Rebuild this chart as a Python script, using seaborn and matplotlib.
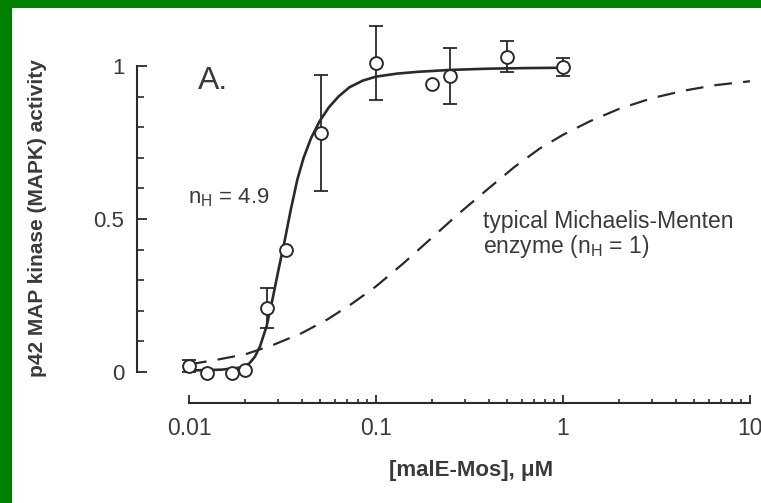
import numpy as np
import pandas as pd
import seaborn as sns
import matplotlib.pyplot as plt
from matplotlib.patches import Rectangle
from matplotlib.ticker import FixedLocator, NullFormatter

# measured points (open circles) with error bars
conc = [0.010, 0.0125, 0.017, 0.020, 0.026, 0.033, 0.051, 0.10, 0.20, 0.25, 0.50, 1.0]
activity = [0.02, -0.003, -0.003, 0.006, 0.21, 0.40, 0.78, 1.01, 0.94, 0.967, 1.03, 0.997]
err = [0.02, 0, 0, 0, 0.065, 0, 0.19, 0.12, 0.0, 0.09, 0.05, 0.03]

# fitted Hill curve (n_H = 4.9)
hill_x = [0.010, 0.015, 0.019, 0.021, 0.0225, 0.024, 0.026, 0.028, 0.030, 0.0325,
          0.035, 0.038, 0.041, 0.045, 0.050, 0.056, 0.063, 0.072, 0.085, 0.10,
          0.13, 0.17, 0.25, 0.40, 0.65, 1.0]
hill_y = [0.005, 0.008, 0.015, 0.028, 0.05, 0.085, 0.15, 0.24, 0.33, 0.43,
          0.53, 0.63, 0.70, 0.765, 0.82, 0.865, 0.90, 0.93, 0.952, 0.965,
          0.975, 0.981, 0.987, 0.991, 0.993, 0.994]

# typical Michaelis-Menten curve (n_H = 1)
mm_x = [0.010, 0.014, 0.020, 0.028, 0.040, 0.055, 0.075, 0.10, 0.14, 0.20, 0.28,
        0.40, 0.55, 0.75, 1.0, 1.4, 2.0, 3.0, 4.5, 6.5, 10.0]
mm_y = [0.025, 0.04, 0.058, 0.088, 0.127, 0.172, 0.225, 0.28, 0.355, 0.44, 0.52,
        0.60, 0.67, 0.73, 0.775, 0.82, 0.86, 0.895, 0.92, 0.937, 0.95]

y_ticks = [0, 0.5, 1]
y_minor = [0.1, 0.2, 0.3, 0.4, 0.6, 0.7, 0.8, 0.9]
x_ticks = [0.01, 0.1, 1, 10]
x_labels = ['0.01', '0.1', '1', '10']

sns.set_theme(style="white")
plt.rcParams['font.family'] = ['Liberation Sans', 'DejaVu Sans']
plt.rcParams['mathtext.fontset'] = 'custom'
plt.rcParams['mathtext.rm'] = 'Liberation Sans'

ink = '#2a2a2a'
txt = '#3a3a3a'

fig = plt.figure(figsize=(7.61, 5.03), dpi=100)
fig.patch.set_facecolor('#008000')
fig.add_artist(Rectangle((12 / 761, 0), 1, 1 - 8 / 503, transform=fig.transFigure,
                         facecolor='white', edgecolor='none', zorder=-10))

ax = fig.add_axes([137 / 761, 1 - 403 / 503, 613 / 761, 383 / 503])
ax.set_facecolor('none')
ax.set_xscale('log')

sns.lineplot(x=hill_x, y=hill_y, ax=ax, color=ink, linewidth=1.9, zorder=2)
sns.lineplot(x=mm_x, y=mm_y, ax=ax, color=ink, linewidth=1.6, zorder=2)
ax.lines[-1].set_dashes((8, 5))

df = pd.DataFrame({'conc': conc, 'activity': activity, 'err': err})
bars = df[df['err'] > 0]
ax.errorbar(bars['conc'], bars['activity'], yerr=bars['err'], fmt='none',
            ecolor=ink, elinewidth=1.3, capsize=5, capthick=1.3, zorder=3)
sns.scatterplot(data=df, x='conc', y='activity', ax=ax, marker='o', s=85,
                facecolor='white', edgecolor=ink, linewidth=1.4, zorder=4)

ax.set_xlim(0.00527, 10)
ax.set_ylim(-0.101, 1.15)

for s in ['top', 'right']:
    ax.spines[s].set_visible(False)
ax.spines['left'].set_bounds(0, 1)
ax.spines['bottom'].set_bounds(0.01, 10)
for s in ['left', 'bottom']:
    ax.spines[s].set_color(ink)
    ax.spines[s].set_linewidth(1.5)

ax.set_yticks(y_ticks)
ax.set_yticklabels(['0', '0.5', '1'])
ax.yaxis.set_minor_locator(FixedLocator(y_minor))
ax.set_xticks(x_ticks)
ax.set_xticklabels(x_labels)
x_minor = [m * d for d in [0.01, 0.1, 1] for m in range(2, 10)]
ax.xaxis.set_minor_locator(FixedLocator(x_minor))
ax.xaxis.set_minor_formatter(NullFormatter())

ax.tick_params(axis='y', which='major', direction='in', length=7, width=1.3,
               color=ink, labelsize=16, labelcolor=txt, pad=9, left=True)
ax.tick_params(axis='y', which='minor', direction='in', length=5, width=1.2,
               color=ink, left=True)
ax.tick_params(axis='x', which='major', direction='in', length=6, width=1.3,
               color=ink, labelsize=16.5, labelcolor=txt, pad=10, bottom=True)
ax.tick_params(axis='x', which='minor', direction='in', length=3, width=1.2,
               color=ink, bottom=True)

ax.set_xlabel('[malE-Mos], μM', fontsize=16, fontweight='bold', color=txt)
ax.set_ylabel('p42 MAP kinase (MAPK) activity', fontsize=15, fontweight='bold', color=txt)
ax.xaxis.set_label_coords(0.545, -0.15)
ax.yaxis.set_label_coords(-0.147, 0.483)

ax.text(0.0112, 0.925, 'A.', fontsize=23, color=txt)
ax.text(0.0099, 0.552, r'n$_\mathregular{H}$ = 4.9', fontsize=16, color=txt)
ax.text(0.373, 0.389, 'typical Michaelis-Menten\nenzyme (n$_\\mathregular{H}$ = 1)',
        fontsize=16.5, color=txt, linespacing=1.0)

fig.savefig('out.png', dpi=100, facecolor=fig.get_facecolor())
